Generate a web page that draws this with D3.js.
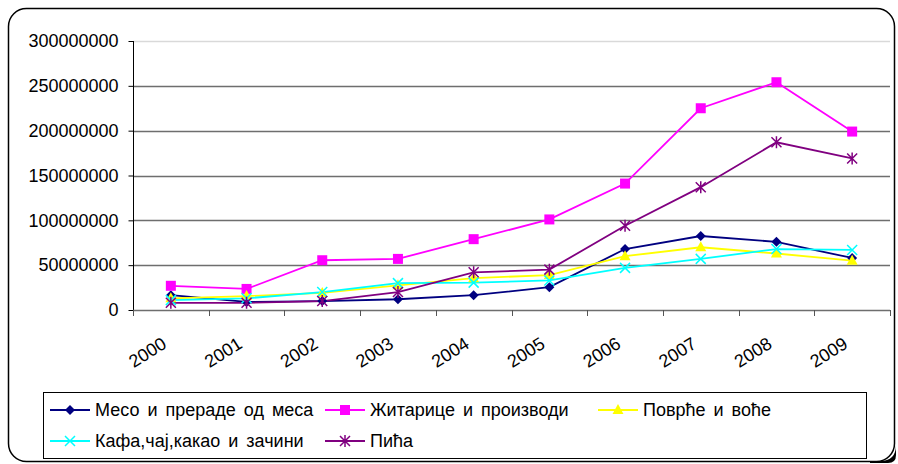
<!doctype html>
<html>
<head>
<meta charset="utf-8">
<title>chart</title>
<script src="https://d3js.org/d3.v7.min.js"></script>
<style>
	body{margin:0;background:#fff;}
	text{font-family:"Liberation Sans",Arial,sans-serif;}
</style>
</head>
<body>
<div id="chart"></div>
<script>
// data
var years = ["2000","2001","2002","2003","2004","2005","2006","2007","2008","2009"];
var yTicks = [0, 50000000, 100000000, 150000000, 200000000, 250000000, 300000000];
var meso     = [16500000, 9000000, 10000000, 12000000, 16500000, 25500000, 68000000, 82500000, 76000000, 58000000];
var zitarice = [27000000, 23500000, 55500000, 57000000, 79000000, 101000000, 141000000, 225000000, 254000000, 199000000];
var povrce   = [13000000, 15500000, 19000000, 27500000, 35500000, 39000000, 60000000, 70000000, 63000000, 55000000];
var kafa     = [11000000, 13000000, 20000000, 30000000, 30500000, 33000000, 47000000, 57000000, 68000000, 67000000];
var pica     = [8000000, 8000000, 10000000, 20000000, 42000000, 45000000, 94000000, 137000000, 187000000, 169000000];
var names = ["Месо и прераде од меса","Житарице и производи","Поврће и воће","Кафа,чај,какао и зачини","Пића"];

var series = [
	{name:names[0], values:meso,     color:"#000080", marker:"diamond"},
	{name:names[1], values:zitarice, color:"#ff00ff", marker:"square"},
	{name:names[2], values:povrce,   color:"#ffff00", marker:"triangle"},
	{name:names[3], values:kafa,     color:"#00ffff", marker:"x"},
	{name:names[4], values:pica,     color:"#800080", marker:"star"}
];

var width = 898, height = 464;
var fs = 18;

var svg = d3.select("#chart").append("svg")
	.attr("width", width)
	.attr("height", height);

// frame with shadow
svg.append("path")
	.attr("d","M870,461 L880,461 Q896,461 896,445 L896,455 Q896,463 888,463 L870,463 Z")
	.attr("fill","#000");
svg.append("rect")
	.attr("x",8.5).attr("y",8.5)
	.attr("width",886).attr("height",453)
	.attr("rx",18).attr("ry",18)
	.attr("fill","#fff")
	.attr("stroke","#000")
	.attr("stroke-width",1.5);

var x = d3.scaleBand()
	.domain(years)
	.range([133, 890]);

var y = d3.scaleLinear()
	.domain([0, 300000000])
	.range([310, 41]);

// grid lines
svg.append("g").selectAll("line")
	.data(yTicks.filter(function(d){ return d > 0; }))
	.enter().append("line")
	.attr("x1",133).attr("x2",890)
	.attr("y1",function(d){ return Math.round(y(d)) + 0.5; })
	.attr("y2",function(d){ return Math.round(y(d)) + 0.5; })
	.attr("stroke",function(d){ return d == 300000000 ? "#d9d9d9" : "#6e6e6e"; })
	.attr("stroke-width",1.5);

// y axis
var yAxis = svg.append("g")
	.attr("transform","translate(133.5,0)")
	.call(d3.axisLeft(y).tickValues(yTicks).tickSize(5).tickPadding(10).tickFormat(d3.format("d")));
yAxis.selectAll("text").attr("font-size",fs).attr("fill","#000").attr("font-family","Liberation Sans, Arial, sans-serif");
yAxis.selectAll("line").attr("stroke","#000");
yAxis.select(".domain").attr("stroke","#000").attr("d","M0,41V310");

// x axis
var xAxis = svg.append("g")
	.attr("transform","translate(0,310.5)")
	.call(d3.axisBottom(x).tickSize(0).tickFormat(""));
xAxis.select(".domain").attr("stroke","#6e6e6e").attr("stroke-width",1.5).attr("d","M133,0H890");
xAxis.selectAll(".tick").remove();

var bounds = years.map(function(d){ return x(d); }).concat([x.range()[1]]);
svg.append("g").selectAll("line")
	.data(bounds)
	.enter().append("line")
	.attr("x1",function(d){ return Math.round(d) + 0.5; })
	.attr("x2",function(d){ return Math.round(d) + 0.5; })
	.attr("y1",310).attr("y2",316)
	.attr("stroke","#555");

svg.append("g").selectAll("text")
	.data(years)
	.enter().append("text")
	.attr("transform",function(d){ return "translate(" + (x(d) + x.bandwidth()/2 - 10) + ",336) rotate(-32)"; })
	.attr("text-anchor","end")
	.attr("dy","0.72em")
	.attr("font-size",fs)
	.text(function(d){ return d; });

// markers
function marker(sel, type, color, cx, cy){
	var g = sel.append("g").attr("transform","translate(" + cx + "," + cy + ")");
	if(type == "diamond"){
		g.append("path").attr("d","M0,-5L5,0L0,5L-5,0Z").attr("fill",color);
	} else if(type == "square"){
		g.append("rect").attr("x",-5).attr("y",-5).attr("width",10).attr("height",10).attr("fill",color);
	} else if(type == "triangle"){
		g.append("path").attr("d","M0,-6L5.5,4L-5.5,4Z").attr("fill",color);
	} else if(type == "x"){
		g.append("path").attr("d","M-5,-5L5,5M-5,5L5,-5").attr("stroke",color).attr("stroke-width",1.5);
	} else if(type == "star"){
		g.append("path").attr("d","M-5,-5L5,5M-5,5L5,-5M0,-6V6").attr("stroke",color).attr("stroke-width",1.5);
	}
}

var line = d3.line()
	.x(function(d,i){ return x(years[i]) + x.bandwidth()/2; })
	.y(function(d){ return y(d); });

series.forEach(function(s){
	svg.append("path")
		.datum(s.values)
		.attr("d", line)
		.attr("fill","none")
		.attr("stroke", s.color)
		.attr("stroke-width",1.8);
});
series.forEach(function(s){
	var g = svg.append("g");
	s.values.forEach(function(v,i){
		marker(g, s.marker, s.color, x(years[i]) + x.bandwidth()/2, y(v));
	});
});

// legend
svg.append("rect")
	.attr("x",43.5).attr("y",392.5)
	.attr("width",823).attr("height",66)
	.attr("fill","#fff")
	.attr("stroke","#000")
	.attr("stroke-width",1);

var legendPos = [[50,410],[325,410],[598,410],[50,441],[325,441]];
series.forEach(function(s,i){
	var lx = legendPos[i][0], ly = legendPos[i][1];
	svg.append("line")
		.attr("x1",lx).attr("x2",lx + 40)
		.attr("y1",ly).attr("y2",ly)
		.attr("stroke",s.color).attr("stroke-width",1.8);
	marker(svg, s.marker, s.color, lx + 20, ly);
	svg.append("text")
		.attr("x",lx + 45).attr("y",ly)
		.attr("dy","0.36em")
		.attr("font-size",fs)
		.attr("word-spacing","3px")
		.text(s.name);
});
</script>
</body>
</html>
